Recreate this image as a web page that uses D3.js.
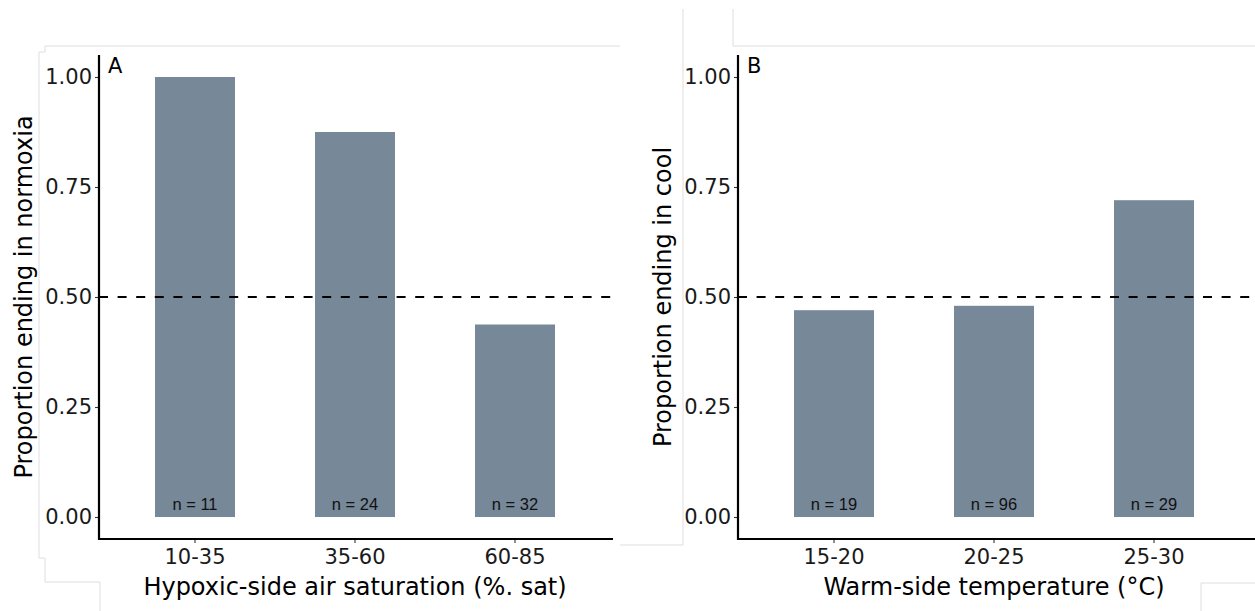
<!DOCTYPE html>
<html>
<head>
<meta charset="utf-8">
<script src="https://cdn.jsdelivr.net/npm/d3@7"></script>
<style>
  html, body { margin: 0; padding: 0; background: #fff; }
  svg { display: block; }
  .tick-label { font-family: "DejaVu Sans", sans-serif; font-size: 21px; fill: #1a1a1a; }
  .axis-title { font-family: "DejaVu Sans", sans-serif; font-size: 24px; fill: #000; }
  .panel-tag { font-family: "DejaVu Sans", sans-serif; font-size: 21px; fill: #000; }
  .n-label { font-family: "Liberation Sans", Arial, sans-serif; font-size: 16.5px; fill: #111; }
</style>
</head>
<body>
<div id="chart"></div>
<script>
// Two-panel bar chart: proportion ending on the preferred side

// Panel A data
const catsA = ['10-35', '35-60', '60-85'];
const propA = [1.00, 0.875, 0.4375];
const nA = [11, 24, 32];

// Panel B data
const catsB = ['15-20', '20-25', '25-30'];
const propB = [0.47, 0.48, 0.72];
const nB = [19, 96, 29];

const yTicks = [0, 0.25, 0.5, 0.75, 1];
const refLine = 0.5;

const width = 1255, height = 611;
const barColor = '#778899';

const svg = d3.select('#chart')
    .append('svg')
    .attr('width', width)
    .attr('height', height);

// faint edges left over from the pasted panels
const edges = [
    'M45,46 H620', 'M45,46 V52 H39 V558 H45 V582 H100 V611',
    'M620,545 H683', 'M683,9 V545',
    'M733,9 V46 H1255', 'M1201,611 V583 H1255'
];
svg.append('g')
    .selectAll('path')
    .data(edges)
    .enter().append('path')
    .attr('d', d => d)
    .attr('fill', 'none')
    .attr('stroke', '#dedede')
    .attr('stroke-width', 1);

function drawPanel(opts) {
    const g = svg.append('g');

    const x = d3.scaleBand()
        .domain(opts.cats)
        .range([opts.left, opts.right])
        .paddingInner(0.5)
        .paddingOuter(0.35);

    const y = d3.scaleLinear()
        .domain([-0.05, 1.05])
        .range([539, 55]);

    // bars
    g.selectAll('.bar')
        .data(opts.cats)
        .enter().append('rect')
        .attr('class', 'bar')
        .attr('x', d => x(d))
        .attr('width', x.bandwidth())
        .attr('y', (d, i) => y(opts.values[i]))
        .attr('height', (d, i) => y(0) - y(opts.values[i]))
        .attr('fill', barColor);

    // sample sizes
    g.selectAll('.n-label')
        .data(opts.cats)
        .enter().append('text')
        .attr('class', 'n-label')
        .attr('x', d => x(d) + x.bandwidth() / 2)
        .attr('y', y(0) - 7)
        .attr('text-anchor', 'middle')
        .text((d, i) => 'n = ' + opts.n[i]);

    // reference line
    g.append('line')
        .attr('x1', opts.left)
        .attr('x2', opts.lineEnd)
        .attr('y1', y(refLine))
        .attr('y2', y(refLine))
        .attr('stroke', '#000')
        .attr('stroke-width', 2.2)
        .attr('stroke-dasharray', '9,9.6');

    // y axis
    const yAxis = g.append('g')
        .attr('transform', `translate(${opts.left},0)`)
        .call(d3.axisLeft(y).tickValues(yTicks).tickFormat(d3.format('.2f')).tickSize(4).tickPadding(3));
    yAxis.select('.domain').remove();
    yAxis.selectAll('.tick line').attr('stroke', '#333').attr('stroke-width', 1.1);
    yAxis.selectAll('.tick text').attr('class', 'tick-label').attr('font-size', null).attr('font-family', null).attr('fill', null);

    // x axis
    const xAxis = g.append('g')
        .attr('transform', `translate(0,${y(-0.05)})`)
        .call(d3.axisBottom(x).tickSize(4).tickPadding(6));
    xAxis.select('.domain').remove();
    xAxis.selectAll('.tick line').attr('stroke', '#333').attr('stroke-width', 1.1);
    xAxis.selectAll('.tick text').attr('class', 'tick-label').attr('font-size', null).attr('font-family', null).attr('fill', null);

    // axis lines
    g.append('path')
        .attr('d', `M${opts.left},55 V${y(-0.05)} H${opts.lineEnd}`)
        .attr('fill', 'none')
        .attr('stroke', '#000')
        .attr('stroke-width', 2.2);

    // titles
    g.append('text')
        .attr('class', 'axis-title')
        .attr('x', (opts.left + opts.right) / 2)
        .attr('y', 595)
        .attr('text-anchor', 'middle')
        .text(opts.xTitle);

    g.append('text')
        .attr('class', 'axis-title')
        .attr('transform', `translate(${opts.left - 67},297) rotate(-90)`)
        .attr('text-anchor', 'middle')
        .text(opts.yTitle);

    g.append('text')
        .attr('class', 'panel-tag')
        .attr('x', opts.left + 9)
        .attr('y', 73)
        .text(opts.tag);
}

drawPanel({
    cats: catsA, values: propA, n: nA,
    left: 99, right: 611, lineEnd: 613,
    xTitle: 'Hypoxic-side air saturation (%. sat)',
    yTitle: 'Proportion ending in normoxia',
    tag: 'A'
});

drawPanel({
    cats: catsB, values: propB, n: nB,
    left: 738, right: 1250, lineEnd: 1255,
    xTitle: 'Warm-side temperature (°C)',
    yTitle: 'Proportion ending in cool',
    tag: 'B'
});
</script>
</body>
</html>
